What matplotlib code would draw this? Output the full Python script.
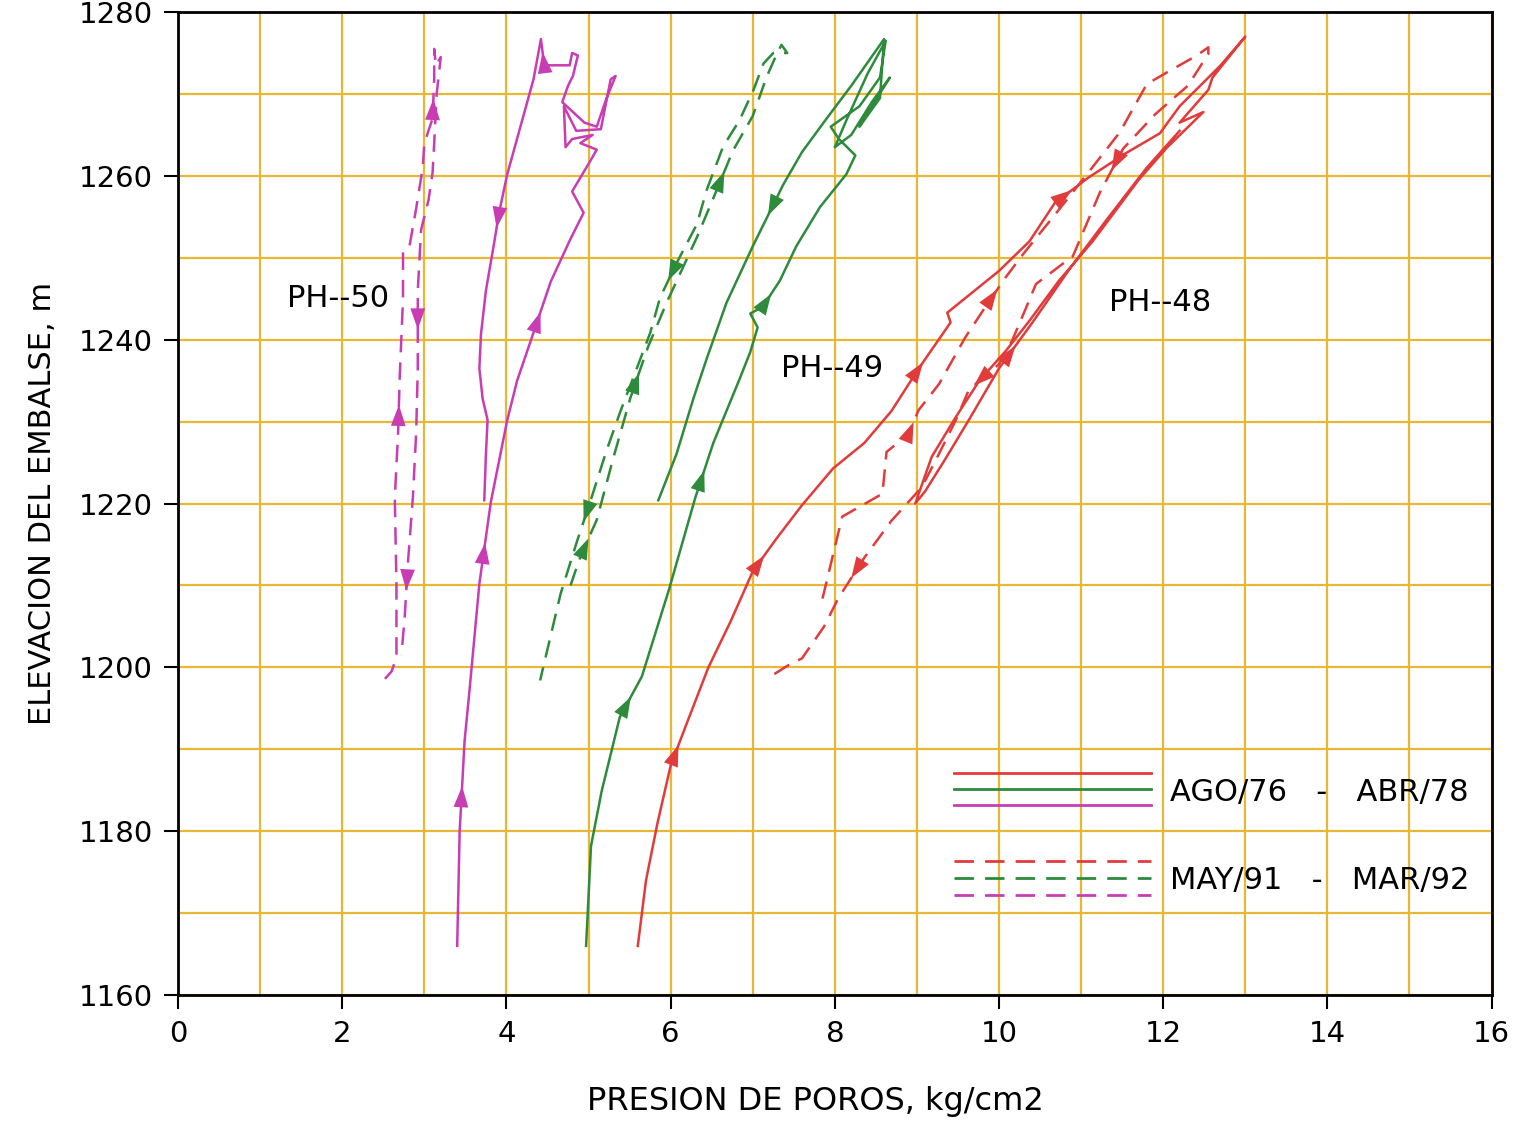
import numpy as np
import matplotlib.pyplot as plt

# PH-48, AGO/76 - ABR/78
x48_a = [5.60, 5.70, 5.84, 6.00, 6.19, 6.46, 6.73, 7.00, 7.28, 7.60, 7.98, 8.36, 8.69, 9.01, 9.14, 9.41,
         9.37, 10.00, 10.37, 10.68, 11.09, 11.55, 11.96, 12.20, 12.44, 12.70, 13.00, 12.60, 12.55, 12.20,
         12.49, 12.05, 11.70, 11.14, 10.73, 10.37, 10.08, 9.76, 9.47, 9.18, 8.98, 9.10, 9.35, 9.65, 10.00,
         10.40, 10.85, 11.30, 11.80, 12.20]
y48_a = [1166, 1174, 1181, 1188, 1193, 1200, 1205.6, 1211.7, 1215.6, 1219.8, 1224.3, 1227.4, 1231.3, 1236.3,
         1238.2, 1242.1, 1243.3, 1248.4, 1252, 1256.7, 1259.8, 1262.8, 1265.2, 1268.5, 1270.9, 1273.5, 1277,
         1272, 1270.5, 1266.5, 1267.8, 1263.5, 1259.5, 1252, 1247.2, 1242.3, 1238.6, 1235, 1230.5, 1225.7,
         1220, 1221.5, 1225.5, 1230.5, 1236.5, 1242, 1248.5, 1254.5, 1261, 1265.5]

# PH-48, MAY/91 - MAR/92
x48_b = [7.85, 8.09, 8.58, 8.63, 8.90, 9.02, 9.27, 9.59, 9.88, 10.08, 10.29, 10.70, 11.04, 11.47, 11.80,
         12.04, 12.41, 12.55, 12.55, 12.30, 11.90, 11.51, 11.23, 10.90, 10.45, 10.33, 10.16, 10.00, 9.76,
         9.63, 9.47, 9.27, 9.06, 8.69, 8.36, 8.04, 7.87, 7.60, 7.44, 7.17]
y48_b = [1208.4, 1218.4, 1221.2, 1226.3, 1228.5, 1231.4, 1234.6, 1240.3, 1244.7, 1247.6, 1250.4, 1255.5,
         1259.8, 1265.3, 1271.2, 1272.6, 1274.7, 1275.7, 1274.9, 1271, 1267.5, 1263.3, 1258, 1250.2, 1246.8,
         1243.9, 1239.9, 1237, 1235, 1233.8, 1230.1, 1226.1, 1222, 1217.9, 1213.4, 1208.4, 1205, 1201.1,
         1200.3, 1198.6]

# PH-49, AGO/76 - ABR/78
x49_a = [4.97, 5.03, 5.16, 5.38, 5.65, 5.98, 6.30, 6.52, 6.84, 6.97, 7.06, 6.97, 7.12, 7.33, 7.53, 7.82,
         8.14, 8.25, 8.05, 7.95, 8.30, 8.55, 8.62, 8.40, 8.15, 8.00, 8.20, 8.45, 8.67, 8.45, 8.30, 8.55,
         8.60, 8.20, 7.90, 7.60, 7.37, 7.00, 6.68, 6.44, 6.28, 6.07, 5.85]
y49_a = [1166, 1178.2, 1184.9, 1193.9, 1198.9, 1209.5, 1220.7, 1227.4, 1235.2, 1238.5, 1241.5, 1243.2,
         1244.0, 1247.2, 1251.4, 1256.2, 1260.2, 1262.5, 1264.5, 1266, 1268.5, 1272, 1276.5, 1272.5, 1267,
         1263.5, 1265, 1269, 1272, 1268.5, 1266, 1269.5, 1276.7, 1271, 1267, 1262.9, 1258.9, 1251.4,
         1244.5, 1237.7, 1232.9, 1226, 1220.4]

# PH-49, MAY/91 - MAR/92
x49_b = [4.78, 4.90, 5.10, 5.30, 5.51, 5.72, 5.95, 6.32, 6.55, 6.76, 7.00, 7.17, 7.29, 7.35, 7.42, 7.25,
         7.13, 7.01, 6.84, 6.64, 6.44, 6.32, 6.07, 5.87, 5.75, 5.55, 5.39, 5.22, 5.02, 4.86, 4.66, 4.41]
y49_b = [1210, 1213.5, 1218, 1225.5, 1232.9, 1239, 1244.5, 1252.5, 1258, 1263.1, 1267.3, 1272.1, 1274.8,
         1276, 1275, 1275, 1273.7, 1270.5, 1266.8, 1263.6, 1258.3, 1254.1, 1249.3, 1245.1, 1240.8, 1235.5,
         1231.3, 1226.5, 1220.2, 1215.4, 1209.0, 1198.4]

# PH-50, AGO/76 - ABR/78
x50_a = [3.40, 3.43, 3.49, 3.55, 3.67, 3.81, 4.01, 4.13, 4.29, 4.54, 4.78, 4.94, 4.80, 5.02, 5.10, 4.90,
         5.05, 4.80, 4.72, 4.70, 4.85, 5.15, 5.27, 5.33, 5.22, 5.10, 4.95, 4.68, 4.75, 4.81, 4.87, 4.80,
         4.77, 4.46, 4.42, 4.33, 4.17, 4.01, 3.91, 3.85, 3.75, 3.69, 3.67, 3.71, 3.77, 3.75, 3.73]
y50_a = [1166, 1180, 1191, 1197.2, 1210.2, 1220.2, 1230.2, 1235, 1239.7, 1247.1, 1252.3, 1255.5, 1258.1,
         1261.8, 1263.2, 1264, 1265, 1264.5, 1263.5, 1268.5, 1265.5, 1265.7, 1271.8, 1272.2, 1269.5, 1266,
         1266.5, 1269, 1271, 1272.2, 1274.7, 1275, 1273.5, 1273.5, 1276.7, 1271.8, 1266, 1260.2, 1255.5,
         1251.8, 1246, 1240.7, 1236.5, 1232.8, 1230.2, 1226, 1220.4]

# PH-50, MAY/91 - MAR/92
x50_b = [2.52, 2.60, 2.66, 2.66, 2.64, 2.68, 2.70, 2.74, 2.74, 2.82, 2.90, 2.98, 3.00, 3.10, 3.12, 3.12,
         3.14, 3.20, 3.15, 3.12, 3.10, 3.05, 2.96, 2.92, 2.92, 2.90, 2.86, 2.80, 2.76, 2.72]
y50_b = [1198.6, 1199.5, 1201.2, 1210.2, 1220.7, 1228.6, 1235.5, 1245, 1250.8, 1251.5, 1256, 1261, 1264,
         1267, 1271.8, 1275.5, 1273.5, 1274.5, 1270, 1264, 1260.4, 1257, 1253.4, 1246, 1236.5, 1228.6,
         1220.7, 1212.8, 1206, 1201.5]

red = '#e23b3b'
green = '#2e8b3c'
magenta = '#c83db4'
gold = '#e8b834'
dash = (0, (7, 4))

fig = plt.figure(figsize=(15.22, 11.26), dpi=100)
ax = fig.add_axes([0.117, 0.1163, 0.863, 0.873])


def arrows(x, y, idx, color):
    # arrowhead halfway along segment i -> i+1
    for i in idx:
        xm = (x[i] + x[i + 1]) / 2
        ym = (y[i] + y[i + 1]) / 2
        ax.annotate('', xy=(xm, ym), xytext=(x[i], y[i]),
                    arrowprops=dict(arrowstyle='-|>,head_length=0.8,head_width=0.28',
                                    color=color, lw=0, shrinkA=0, shrinkB=0,
                                    mutation_scale=19))


ax.plot(x48_a, y48_a, color=red, lw=1.8)
ax.plot(x48_b, y48_b, color=red, lw=1.8, ls=dash)
ax.plot(x49_a, y49_a, color=green, lw=1.8)
ax.plot(x49_b, y49_b, color=green, lw=1.8, ls=dash)
ax.plot(x50_a, y50_a, color=magenta, lw=1.8)
ax.plot(x50_b, y50_b, color=magenta, lw=1.8, ls=dash)

arrows(x48_a, y48_a, [3, 7, 13, 19, 44], red)
arrows(x48_b, y48_b, [4, 8, 21, 28, 34], red)
arrows(x49_a, y49_a, [3, 6, 12, 36], green)
arrows(x49_b, y49_b, [1, 4, 8, 22, 28], green)
arrows(x50_a, y50_a, [1, 4, 8, 33, 38], magenta)
arrows(x50_b, y50_b, [5, 13, 23, 27], magenta)

ax.text(1.95, 1245, 'PH--50', fontsize=22, ha='center', va='center')
ax.text(7.97, 1236.5, 'PH--49', fontsize=22, ha='center', va='center')
ax.text(11.96, 1244.5, 'PH--48', fontsize=22, ha='center', va='center')

# legend drawn inside the axes
for yy, c in zip([0.2258, 0.2096, 0.1933], [red, green, magenta]):
    ax.plot([0.591, 0.741], [yy, yy], color=c, lw=2, transform=ax.transAxes)
for yy, c in zip([0.1363, 0.119, 0.1017], [red, green, magenta]):
    ax.plot([0.591, 0.741], [yy, yy], color=c, lw=2, ls=dash, transform=ax.transAxes)
ax.text(0.755, 0.2065, 'AGO/76   -   ABR/78', fontsize=22, va='center', transform=ax.transAxes)
ax.text(0.755, 0.117, 'MAY/91   -   MAR/92', fontsize=22, va='center', transform=ax.transAxes)

ax.set_xlim(0, 16)
ax.set_ylim(1160, 1280)
ax.set_xticks(range(0, 17, 2))
ax.set_yticks(range(1160, 1281, 20))
ax.set_xticks(range(0, 17), minor=True)
ax.set_yticks(range(1160, 1281, 10), minor=True)
ax.tick_params(which='major', length=10, width=1.5, labelsize=21, pad=8)
ax.tick_params(which='minor', length=0)
ax.grid(which='both', color=gold, lw=1.6)
ax.set_axisbelow(True)

for s in ax.spines.values():
    s.set_linewidth(2)

ax.set_xlabel('PRESION DE POROS, kg/cm2', fontsize=23)
ax.xaxis.set_label_coords(0.485, -0.093)
ax.set_ylabel('ELEVACION DEL EMBALSE, m', fontsize=22, labelpad=16)

fig.savefig('out.png', dpi=100)
